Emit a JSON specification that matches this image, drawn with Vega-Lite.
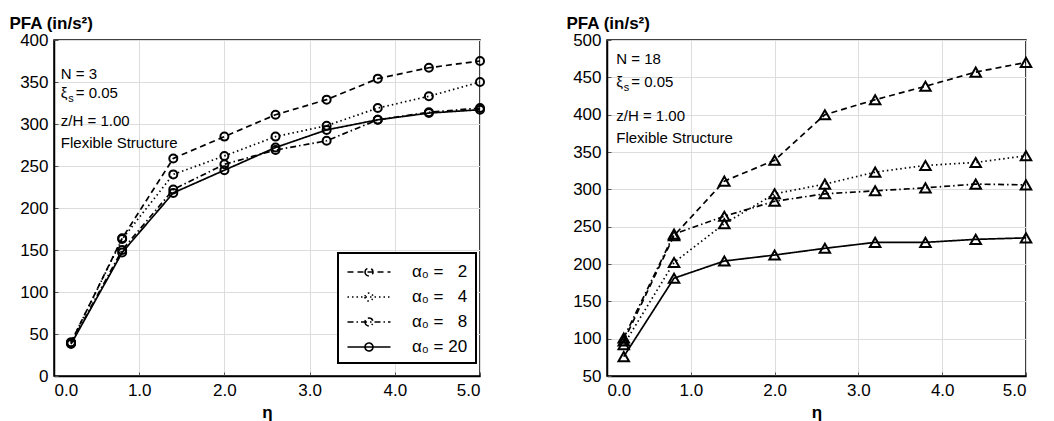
{
  "$schema": "https://vega.github.io/schema/vega-lite/v6.json",
  "padding": {"left": 8, "top": 13, "right": 5, "bottom": 5},
  "background": "white",
  "config": {
    "font": "Liberation Sans",
    "view": {"stroke": "black", "strokeWidth": 1.5},
    "axis": {
      "domainColor": "black", "domainWidth": 1.5,
      "gridColor": "#dddddd", "gridWidth": 1,
      "labelFont": "Liberation Sans", "labelFontSize": 17, "labelColor": "black", "labelOverlap": false,
      "ticks": true, "tickSize": -4, "tickColor": "#555555",
      "titleFont": "Liberation Sans", "titleFontSize": 17, "titleFontWeight": "bold", "titleColor": "black"
    }
  },
  "datasets": {
    "pfa": [
      {"panel": "N3", "series": "2", "eta": 0.2, "pfa": 40},
      {"panel": "N3", "series": "2", "eta": 0.8, "pfa": 164},
      {"panel": "N3", "series": "2", "eta": 1.4, "pfa": 259},
      {"panel": "N3", "series": "2", "eta": 2.0, "pfa": 285},
      {"panel": "N3", "series": "2", "eta": 2.6, "pfa": 311},
      {"panel": "N3", "series": "2", "eta": 3.2, "pfa": 329},
      {"panel": "N3", "series": "2", "eta": 3.8, "pfa": 354},
      {"panel": "N3", "series": "2", "eta": 4.4, "pfa": 367},
      {"panel": "N3", "series": "2", "eta": 5.0, "pfa": 375},
      {"panel": "N3", "series": "4", "eta": 0.2, "pfa": 40},
      {"panel": "N3", "series": "4", "eta": 0.8, "pfa": 163},
      {"panel": "N3", "series": "4", "eta": 1.4, "pfa": 240},
      {"panel": "N3", "series": "4", "eta": 2.0, "pfa": 262},
      {"panel": "N3", "series": "4", "eta": 2.6, "pfa": 285},
      {"panel": "N3", "series": "4", "eta": 3.2, "pfa": 298},
      {"panel": "N3", "series": "4", "eta": 3.8, "pfa": 319},
      {"panel": "N3", "series": "4", "eta": 4.4, "pfa": 333},
      {"panel": "N3", "series": "4", "eta": 5.0, "pfa": 350},
      {"panel": "N3", "series": "8", "eta": 0.2, "pfa": 39},
      {"panel": "N3", "series": "8", "eta": 0.8, "pfa": 150},
      {"panel": "N3", "series": "8", "eta": 1.4, "pfa": 222},
      {"panel": "N3", "series": "8", "eta": 2.0, "pfa": 252},
      {"panel": "N3", "series": "8", "eta": 2.6, "pfa": 269},
      {"panel": "N3", "series": "8", "eta": 3.2, "pfa": 280},
      {"panel": "N3", "series": "8", "eta": 3.8, "pfa": 305},
      {"panel": "N3", "series": "8", "eta": 4.4, "pfa": 314},
      {"panel": "N3", "series": "8", "eta": 5.0, "pfa": 319},
      {"panel": "N3", "series": "20", "eta": 0.2, "pfa": 38},
      {"panel": "N3", "series": "20", "eta": 0.8, "pfa": 147},
      {"panel": "N3", "series": "20", "eta": 1.4, "pfa": 218},
      {"panel": "N3", "series": "20", "eta": 2.0, "pfa": 245},
      {"panel": "N3", "series": "20", "eta": 2.6, "pfa": 272},
      {"panel": "N3", "series": "20", "eta": 3.2, "pfa": 293},
      {"panel": "N3", "series": "20", "eta": 3.8, "pfa": 305},
      {"panel": "N3", "series": "20", "eta": 4.4, "pfa": 313},
      {"panel": "N3", "series": "20", "eta": 5.0, "pfa": 317},
      {"panel": "N18", "series": "2", "eta": 0.2, "pfa": 97},
      {"panel": "N18", "series": "2", "eta": 0.8, "pfa": 238},
      {"panel": "N18", "series": "2", "eta": 1.4, "pfa": 311},
      {"panel": "N18", "series": "2", "eta": 2.0, "pfa": 339},
      {"panel": "N18", "series": "2", "eta": 2.6, "pfa": 400},
      {"panel": "N18", "series": "2", "eta": 3.2, "pfa": 420},
      {"panel": "N18", "series": "2", "eta": 3.8, "pfa": 438},
      {"panel": "N18", "series": "2", "eta": 4.4, "pfa": 457},
      {"panel": "N18", "series": "2", "eta": 5.0, "pfa": 470},
      {"panel": "N18", "series": "4", "eta": 0.2, "pfa": 92},
      {"panel": "N18", "series": "4", "eta": 0.8, "pfa": 202},
      {"panel": "N18", "series": "4", "eta": 1.4, "pfa": 254},
      {"panel": "N18", "series": "4", "eta": 2.0, "pfa": 294},
      {"panel": "N18", "series": "4", "eta": 2.6, "pfa": 307},
      {"panel": "N18", "series": "4", "eta": 3.2, "pfa": 323},
      {"panel": "N18", "series": "4", "eta": 3.8, "pfa": 332},
      {"panel": "N18", "series": "4", "eta": 4.4, "pfa": 336},
      {"panel": "N18", "series": "4", "eta": 5.0, "pfa": 345},
      {"panel": "N18", "series": "8", "eta": 0.2, "pfa": 101},
      {"panel": "N18", "series": "8", "eta": 0.8, "pfa": 240},
      {"panel": "N18", "series": "8", "eta": 1.4, "pfa": 264},
      {"panel": "N18", "series": "8", "eta": 2.0, "pfa": 284},
      {"panel": "N18", "series": "8", "eta": 2.6, "pfa": 294},
      {"panel": "N18", "series": "8", "eta": 3.2, "pfa": 298},
      {"panel": "N18", "series": "8", "eta": 3.8, "pfa": 302},
      {"panel": "N18", "series": "8", "eta": 4.4, "pfa": 307},
      {"panel": "N18", "series": "8", "eta": 5.0, "pfa": 306},
      {"panel": "N18", "series": "20", "eta": 0.2, "pfa": 76},
      {"panel": "N18", "series": "20", "eta": 0.8, "pfa": 181},
      {"panel": "N18", "series": "20", "eta": 1.4, "pfa": 204},
      {"panel": "N18", "series": "20", "eta": 2.0, "pfa": 212},
      {"panel": "N18", "series": "20", "eta": 2.6, "pfa": 221},
      {"panel": "N18", "series": "20", "eta": 3.2, "pfa": 229},
      {"panel": "N18", "series": "20", "eta": 3.8, "pfa": 229},
      {"panel": "N18", "series": "20", "eta": 4.4, "pfa": 233},
      {"panel": "N18", "series": "20", "eta": 5.0, "pfa": 235}
    ],
    "notes": [
      {"panel": "N3", "eta": 0.08, "pfa": 354, "text": "N = 3"},
      {"panel": "N3", "eta": 0.08, "pfa": 331, "text": "ξ"},
      {"panel": "N3", "eta": 0.08, "pfa": 298, "text": "z/H = 1.00"},
      {"panel": "N3", "eta": 0.08, "pfa": 271, "text": "Flexible Structure"},
      {"panel": "N18", "eta": 0.11, "pfa": 468, "text": "N = 18"},
      {"panel": "N18", "eta": 0.11, "pfa": 437, "text": "ξ"},
      {"panel": "N18", "eta": 0.11, "pfa": 392, "text": "z/H = 1.00"},
      {"panel": "N18", "eta": 0.11, "pfa": 362, "text": "Flexible Structure"}
    ],
    "subs": [
      {"panel": "N3", "eta": 0.08, "pfa": 331, "text": "s"},
      {"panel": "N18", "eta": 0.11, "pfa": 437, "text": "s"}
    ],
    "eqs": [
      {"panel": "N3", "eta": 0.08, "pfa": 331, "text": "= 0.05"},
      {"panel": "N18", "eta": 0.11, "pfa": 437, "text": "= 0.05"}
    ]
  },
  "resolve": {"scale": {"strokeDash": "independent"}, "legend": {"strokeDash": "independent"}},
  "spacing": 76,
  "hconcat": [
    {
      "width": 426,
      "height": 336,
      "layer": [
        {
          "data": {"name": "pfa"},
          "transform": [{"filter": "datum.panel == 'N3'"}],
          "mark": {"type": "line", "color": "black", "strokeWidth": 1.7},
          "encoding": {
            "x": {"field": "eta", "type": "quantitative", "scale": {"domain": [0, 5], "nice": false},
                  "axis": {"values": [0, 1, 2, 3, 4, 5], "format": ".1f", "title": "η", "labelPadding": 10, "titlePadding": 6, "labelOverlap": false}},
            "y": {"field": "pfa", "type": "quantitative", "scale": {"domain": [0, 400], "nice": false},
                  "axis": {"tickCount": 8, "title": "PFA (in/s²)", "titleAngle": 0, "titleAlign": "left", "titleBaseline": "alphabetic", "titleX": -45, "titleY": -12, "labelPadding": 10, "labelOverlap": false}},
            "strokeDash": {"field": "series", "type": "nominal",
              "scale": {"domain": ["2", "4", "8", "20"], "range": [[6, 4], [1.5, 3], [6, 3, 1.5, 3], [1, 0]]},
              "legend": {
                "title": null, "orient": "none", "legendX": 284, "legendY": 213,
                "labelExpr": "'α₀ = ' + (datum.label == '20' ? '' : '\u00a0\u00a0') + datum.label",
                "labelFont": "Liberation Sans", "labelFontSize": 17, "labelColor": "black", "labelOffset": 32,
                "symbolType": "M-2.15,0H2.15M-0.4,0A0.4,0.4 0 1,0 0.4,0A0.4,0.4 0 1,0 -0.4,0",
                "symbolSize": 400, "symbolOffset": 12, "symbolStrokeColor": "black", "symbolStrokeWidth": 1.6, "symbolFillColor": "transparent",
                "strokeColor": "black", "padding": 8, "rowPadding": 6, "fillColor": "white",
                "encode": {"legend": {"update": {"strokeWidth": {"value": 2}}}}
              }
            },
            "detail": {"field": "series"}
          }
        },
        {
          "data": {"name": "pfa"},
          "transform": [{"filter": "datum.panel == 'N3'"}],
          "mark": {"type": "point", "shape": "circle", "filled": false, "color": "black", "strokeWidth": 2, "size": 64, "opacity": 1},
          "encoding": {
            "x": {"field": "eta", "type": "quantitative"},
            "y": {"field": "pfa", "type": "quantitative"}
          }
        },
        {
          "data": {"name": "notes"},
          "transform": [{"filter": "datum.panel == 'N3'"}],
          "mark": {"type": "text", "align": "left", "baseline": "alphabetic", "fontSize": 15, "color": "black", "font": "Liberation Sans"},
          "encoding": {
            "x": {"field": "eta", "type": "quantitative"},
            "y": {"field": "pfa", "type": "quantitative"},
            "text": {"field": "text"}
          }
        },
        {
          "data": {"name": "subs"},
          "transform": [{"filter": "datum.panel == 'N3'"}],
          "mark": {"type": "text", "align": "left", "baseline": "alphabetic", "fontSize": 11, "dx": 7.5, "dy": 4, "color": "black", "font": "Liberation Sans"},
          "encoding": {
            "x": {"field": "eta", "type": "quantitative"},
            "y": {"field": "pfa", "type": "quantitative"},
            "text": {"field": "text"}
          }
        },
        {
          "data": {"name": "eqs"},
          "transform": [{"filter": "datum.panel == 'N3'"}],
          "mark": {"type": "text", "align": "left", "baseline": "alphabetic", "fontSize": 15, "dx": 15, "color": "black", "font": "Liberation Sans"},
          "encoding": {
            "x": {"field": "eta", "type": "quantitative"},
            "y": {"field": "pfa", "type": "quantitative"},
            "text": {"field": "text"}
          }
        }
      ]
    },
    {
      "width": 419,
      "height": 336,
      "layer": [
        {
          "data": {"name": "pfa"},
          "transform": [{"filter": "datum.panel == 'N18'"}],
          "mark": {"type": "line", "color": "black", "strokeWidth": 1.7},
          "encoding": {
            "x": {"field": "eta", "type": "quantitative", "scale": {"domain": [0, 5], "nice": false},
                  "axis": {"values": [0, 1, 2, 3, 4, 5], "format": ".1f", "title": "η", "labelPadding": 10, "titlePadding": 6, "labelOverlap": false}},
            "y": {"field": "pfa", "type": "quantitative", "scale": {"domain": [50, 500], "nice": false, "zero": false},
                  "axis": {"tickCount": 10, "title": "PFA (in/s²)", "titleAngle": 0, "titleAlign": "left", "titleBaseline": "alphabetic", "titleX": -41, "titleY": -12, "labelPadding": 10, "labelOverlap": false}},
            "strokeDash": {"field": "series", "type": "nominal",
              "scale": {"domain": ["2", "4", "8", "20"], "range": [[6, 4], [1.5, 3], [6, 3, 1.5, 3], [1, 0]]},
              "legend": null},
            "detail": {"field": "series"}
          }
        },
        {
          "data": {"name": "pfa"},
          "transform": [{"filter": "datum.panel == 'N18'"}],
          "mark": {"type": "point", "shape": "triangle-up", "filled": false, "color": "black", "strokeWidth": 2, "size": 110, "opacity": 1},
          "encoding": {
            "x": {"field": "eta", "type": "quantitative"},
            "y": {"field": "pfa", "type": "quantitative"}
          }
        },
        {
          "data": {"name": "notes"},
          "transform": [{"filter": "datum.panel == 'N18'"}],
          "mark": {"type": "text", "align": "left", "baseline": "alphabetic", "fontSize": 15, "color": "black", "font": "Liberation Sans"},
          "encoding": {
            "x": {"field": "eta", "type": "quantitative"},
            "y": {"field": "pfa", "type": "quantitative"},
            "text": {"field": "text"}
          }
        },
        {
          "data": {"name": "subs"},
          "transform": [{"filter": "datum.panel == 'N18'"}],
          "mark": {"type": "text", "align": "left", "baseline": "alphabetic", "fontSize": 11, "dx": 7.5, "dy": 4, "color": "black", "font": "Liberation Sans"},
          "encoding": {
            "x": {"field": "eta", "type": "quantitative"},
            "y": {"field": "pfa", "type": "quantitative"},
            "text": {"field": "text"}
          }
        },
        {
          "data": {"name": "eqs"},
          "transform": [{"filter": "datum.panel == 'N18'"}],
          "mark": {"type": "text", "align": "left", "baseline": "alphabetic", "fontSize": 15, "dx": 15, "color": "black", "font": "Liberation Sans"},
          "encoding": {
            "x": {"field": "eta", "type": "quantitative"},
            "y": {"field": "pfa", "type": "quantitative"},
            "text": {"field": "text"}
          }
        }
      ]
    }
  ]
}
